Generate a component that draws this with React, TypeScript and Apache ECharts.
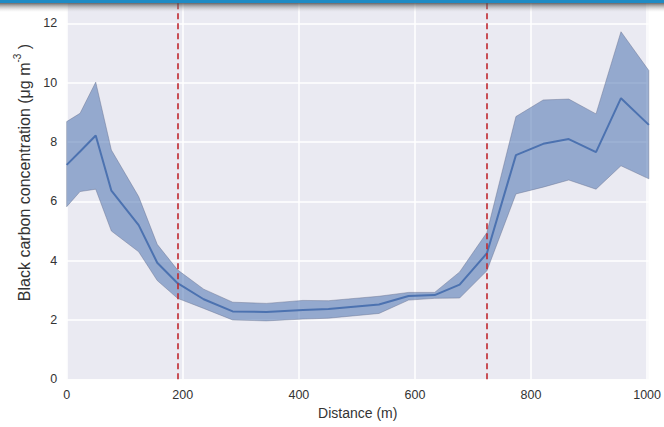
import React, { useEffect, useRef } from "react";
import * as echarts from "echarts";

const distance = [0, 23, 50, 77, 124, 156, 191, 236, 286, 344, 407, 451, 538, 589, 634, 677, 724, 774, 821, 865, 912, 955, 1003];
const meanBC = [7.23, 7.68, 8.22, 6.36, 5.2, 3.93, 3.24, 2.7, 2.29, 2.27, 2.34, 2.37, 2.52, 2.81, 2.84, 3.19, 4.25, 7.56, 7.94, 8.1, 7.66, 9.48, 8.58];
const upperBC = [8.69, 8.97, 10.02, 7.73, 6.16, 4.55, 3.69, 3.04, 2.6, 2.56, 2.66, 2.65, 2.8, 2.93, 2.93, 3.62, 4.95, 8.86, 9.42, 9.45, 8.95, 11.72, 10.41];
const lowerBC = [5.82, 6.33, 6.41, 5.0, 4.3, 3.33, 2.73, 2.39, 2.0, 1.97, 2.03, 2.06, 2.22, 2.67, 2.73, 2.74, 3.66, 6.25, 6.48, 6.72, 6.41, 7.2, 6.76];
const boundaries = [191, 724];
const xTicks = { min: 0, max: 1003, interval: 200 };
const yTicks = { min: 0, max: 12.79, interval: 2 };

const FONT = "Liberation Sans, Arial, sans-serif";

export default function App() {
  const ref = useRef<HTMLDivElement>(null);
  useEffect(() => {
    if (!ref.current) return;
    const chart = echarts.init(ref.current, null, { renderer: "svg" });
    const option: any = {
      animation: false,
      backgroundColor: "#ffffff",
      grid: { left: 66.7, right: 11.7, top: 0, bottom: 47.7, show: true, backgroundColor: "#EAEAF2", borderWidth: 0 },
      xAxis: {
        type: "value",
        min: xTicks.min,
        max: xTicks.max,
        interval: xTicks.interval,
        axisLine: { show: false },
        axisTick: { show: false },
        axisLabel: {
          color: "#333",
          fontSize: 12.5,
          fontFamily: FONT,
          margin: 9,
          showMaxLabel: false,
          formatter: (v: number) => String(v),
        },
        splitLine: { show: true, lineStyle: { color: "#ffffff", width: 1.5 } },
        name: "Distance (m)",
        nameLocation: "middle",
        nameGap: 27,
        nameTextStyle: { color: "#333", fontSize: 14, fontFamily: FONT },
      },
      yAxis: {
        type: "value",
        min: yTicks.min,
        max: yTicks.max,
        interval: yTicks.interval,
        axisLine: { show: false },
        axisTick: { show: false },
        axisLabel: {
          color: "#333",
          fontSize: 12.5,
          fontFamily: FONT,
          margin: 9.5,
          showMaxLabel: false,
          formatter: (v: number) => String(v),
        },
        splitLine: { show: true, lineStyle: { color: "#ffffff", width: 1.5 } },
      },
      series: [
        {
          type: "custom",
          z: 2,
          clip: true,
          data: distance.map((d, i) => [d, lowerBC[i], upperBC[i]]),
          encode: { x: 0, y: [1, 2] },
          renderItem: (params: any, api: any) => {
            if (params.dataIndex !== 0) return { type: "group", children: [] };
            const pts: number[][] = [];
            for (let i = 0; i < distance.length; i++) pts.push(api.coord([distance[i], upperBC[i]]));
            for (let i = distance.length - 1; i >= 0; i--) pts.push(api.coord([distance[i], lowerBC[i]]));
            return {
              type: "polygon",
              shape: { points: pts },
              style: { fill: "rgba(76,114,176,0.55)", stroke: "rgba(100,110,140,0.55)", lineWidth: 0.8 },
            };
          },
        },
        {
          type: "line",
          z: 3,
          data: distance.map((d, i) => [d, meanBC[i]]),
          symbol: "none",
          lineStyle: { color: "#4C72B0", width: 2 },
          markLine: {
            silent: true,
            symbol: "none",
            label: { show: false },
            lineStyle: { color: "#C0282F", type: [6, 4], width: 1.6 },
            data: boundaries.map((b) => ({ xAxis: b })),
          },
        },
      ],
      graphic: [
        {
          type: "text",
          x: 22.5,
          y: 172.5,
          rotation: Math.PI / 2,
          style: {
            text: "{n|Black carbon concentration (μg m}{s|-3}{n| )}",
            align: "center",
            verticalAlign: "middle",
            textAlign: "center",
            textVerticalAlign: "middle",
            fill: "#333",
            rich: {
              n: { fontSize: 16, fontFamily: FONT, fill: "#333", color: "#333", verticalAlign: "bottom", lineHeight: 20 },
              s: { fontSize: 10, fontFamily: FONT, fill: "#333", color: "#333", verticalAlign: "top", lineHeight: 12 },
            },
          },
          z: 10,
        },
        {
          type: "rect",
          shape: { x: 0, y: 3, width: 664, height: 9 },
          style: {
            fill: new echarts.graphic.LinearGradient(0, 0, 0, 1, [
              { offset: 0, color: "rgba(70,70,70,0.8)" },
              { offset: 1, color: "rgba(200,200,200,0)" },
            ]),
          },
          z: 100,
        },
        {
          type: "rect",
          shape: { x: 0, y: 0, width: 664, height: 3 },
          style: { fill: "#1F8BC4" },
          z: 101,
        },
      ],
    };
    chart.setOption(option);
    return () => chart.dispose();
  }, []);
  return (
    <div
      ref={ref}
      style={{ position: "fixed", left: 0, top: 0, width: 664, height: 427 }}
    />
  );
}
